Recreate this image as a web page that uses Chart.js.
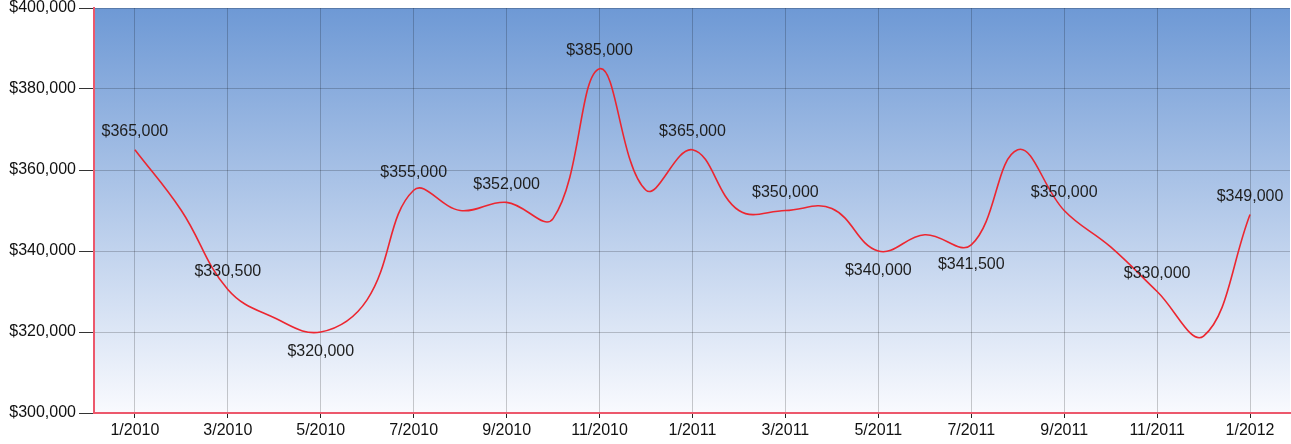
<!DOCTYPE html>
<html>
<head>
<meta charset="utf-8">
<script src="https://cdn.jsdelivr.net/npm/chart.js@4"></script>
<style>
  body { margin: 0; background: #fff; }
  #wrap { width: 1291px; height: 444px; }
</style>
</head>
<body>
<div id="wrap"><canvas id="priceChart"></canvas></div>
<script>
const months = ['1/2010', '2/2010', '3/2010', '4/2010', '5/2010', '6/2010', '7/2010', '8/2010', '9/2010', '10/2010', '11/2010', '12/2010',
  '1/2011', '2/2011', '3/2011', '4/2011', '5/2011', '6/2011', '7/2011', '8/2011', '9/2011', '10/2011', '11/2011', '12/2011', '1/2012'];
const prices = [365000, 350000, 330500, 323500, 320000, 328000, 355000, 350000, 352000, 348000, 385000, 355000,
  365000, 350000, 350000, 350500, 340000, 344000, 341500, 365000, 350000, 341000, 330000, 319000, 349000];
const tickMonths = [0, 2, 4, 6, 8, 10, 12, 14, 16, 18, 20, 22, 24];
const yTicks = [300000, 320000, 340000, 360000, 380000, 400000];

const money = v => '$' + v.toLocaleString('en-US');

const bgPlugin = {
  id: 'bg',
  beforeDraw(chart) {
    const { ctx, chartArea: a } = chart;
    const g = ctx.createLinearGradient(0, a.top, 0, a.bottom);
    g.addColorStop(0, 'rgb(110,153,213)');
    g.addColorStop(1, 'rgb(249,250,254)');
    ctx.save();
    ctx.fillStyle = g;
    ctx.fillRect(a.left, a.top, a.right - a.left, a.bottom - a.top);
    ctx.restore();
  }
};

const valueLabels = {
  id: 'valueLabels',
  afterDatasetsDraw(chart) {
    const { ctx } = chart;
    const pts = chart.getDatasetMeta(0).data;
    ctx.save();
    ctx.font = '16px "Liberation Sans", Arial, sans-serif';
    ctx.fillStyle = '#1e1e1e';
    ctx.textAlign = 'center';
    ctx.textBaseline = 'middle';
    tickMonths.forEach(i => {
      const p = pts[i];
      const prev = prices[i - 1], next = prices[i + 1];
      const isLow = prev !== undefined && next !== undefined && prices[i] < prev && prices[i] < next;
      ctx.fillText(money(prices[i]), p.x, isLow ? p.y + 20 : p.y - 18);
    });
    ctx.restore();
  }
};

new Chart(document.getElementById('priceChart'), {
  type: 'line',
  data: {
    datasets: [{
      data: prices.map((v, i) => ({ x: i, y: v })),
      borderColor: 'rgb(236,38,48)',
      borderWidth: 1.6,
      pointRadius: 0,
      tension: 0.4,
      fill: false
    }]
  },
  options: {
    responsive: true,
    maintainAspectRatio: false,
    animation: false,
    layout: { padding: { top: 0, right: 1, bottom: 0, left: 0 } },
    plugins: { legend: { display: false }, tooltip: { enabled: false } },
    scales: {
      x: {
        type: 'linear',
        min: -0.88,
        max: 24.86,
        afterBuildTicks: axis => { axis.ticks = tickMonths.map(v => ({ value: v })); },
        afterFit: axis => { axis.height = 31; },
        border: { color: 'rgb(236,88,108)', width: 2 },
        grid: { color: 'rgba(0,0,0,0.2)', tickColor: '#222', tickLength: 5 },
        ticks: {
          callback: v => months[v],
          color: '#111',
          padding: 3,
          maxRotation: 0,
          autoSkip: false,
          font: { family: '"Liberation Sans", Arial, sans-serif', size: 16 }
        }
      },
      y: {
        min: 300000,
        max: 400000,
        afterBuildTicks: axis => { axis.ticks = yTicks.map(v => ({ value: v })); },
        afterFit: axis => { axis.width = 94; axis.paddingTop = 8; axis.paddingBottom = 0; },
        border: { color: 'rgb(236,88,108)', width: 2 },
        grid: { color: 'rgba(0,0,0,0.2)', tickColor: '#333', tickLength: 15 },
        ticks: {
          callback: v => money(v),
          color: '#111',
          padding: 3,
          font: { family: '"Liberation Sans", Arial, sans-serif', size: 16 }
        }
      }
    }
  },
  plugins: [bgPlugin, valueLabels]
});
</script>
</body>
</html>
